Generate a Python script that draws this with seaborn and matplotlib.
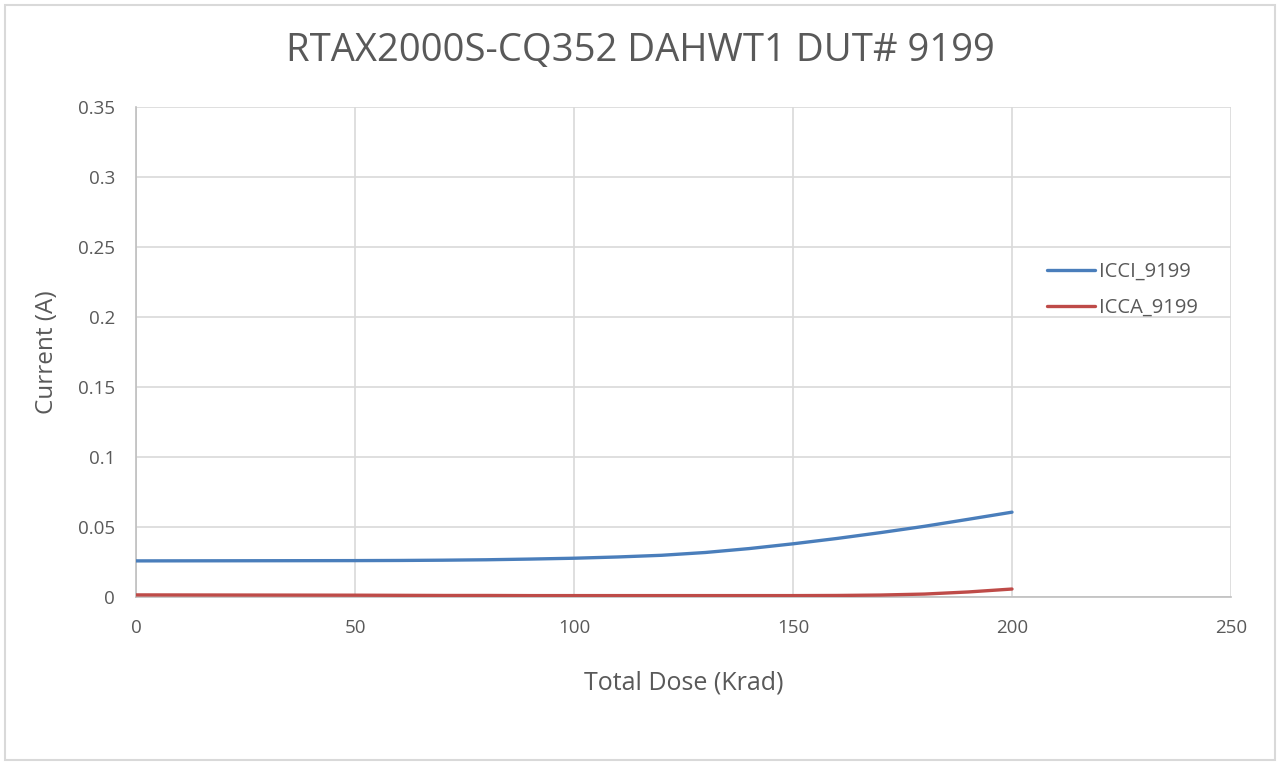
import pandas as pd
import matplotlib.pyplot as plt
import seaborn as sns
from matplotlib.patches import Rectangle

sns.set_theme(style="white")
plt.rcParams['font.family'] = ['Open Sans', 'DejaVu Sans']

TITLE = 'RTAX2000S-CQ352 DAHWT1 DUT# 9199'

# values
dose = [0, 25, 50, 60, 70, 80, 90, 100, 110, 120, 130, 140, 150, 160, 170, 180, 190, 200]
icci = [0.0258, 0.0259, 0.0260, 0.0261, 0.0263, 0.0266, 0.0271, 0.0277, 0.0286, 0.0298,
        0.0318, 0.0346, 0.0380, 0.0418, 0.0460, 0.0505, 0.0555, 0.0606]
icca = [0.0015, 0.0014, 0.0013, 0.0012, 0.0011, 0.0011, 0.0010, 0.0010, 0.0010, 0.0010,
        0.0010, 0.0010, 0.0010, 0.0011, 0.0014, 0.0021, 0.0036, 0.0057]

df = pd.concat([
    pd.DataFrame({'dose': dose, 'current': icci, 'series': 'ICCI_9199'}),
    pd.DataFrame({'dose': dose, 'current': icca, 'series': 'ICCA_9199'}),
])

GREY = '#595959'
GRID = '#d9d9d9'
palette = {'ICCI_9199': '#4a7ebb', 'ICCA_9199': '#be4b48'}

fig = plt.figure(figsize=(12.8, 7.65), dpi=100)
ax = fig.add_axes([0.1063, 0.2196, 0.8554, 0.6405])

sns.lineplot(data=df, x='dose', y='current', hue='series', palette=palette,
             linewidth=2.4, ax=ax, legend=True, zorder=3)

ax.set_xlim(0, 250)
ax.set_ylim(0, 0.35)
ax.set_xticks([0, 50, 100, 150, 200, 250])
ax.set_yticks([0, 0.05, 0.1, 0.15, 0.2, 0.25, 0.3, 0.35])
ax.set_yticklabels(['0', '0.05', '0.1', '0.15', '0.2', '0.25', '0.3', '0.35'])
ax.grid(True, color=GRID, linewidth=1.2)
ax.set_axisbelow(True)
for s in ['top', 'right']:
    ax.spines[s].set_visible(False)
for s in ['left', 'bottom']:
    ax.spines[s].set_color('#bfbfbf')
    ax.spines[s].set_linewidth(1.2)
ax.tick_params(axis='both', colors=GREY, labelsize=13.5, length=0)
ax.tick_params(axis='x', pad=16)
ax.tick_params(axis='y', pad=15)

ax.set_xlabel('Total Dose (Krad)', color=GREY, fontsize=18, labelpad=24)
ax.set_ylabel('Current (A)', color=GREY, fontsize=17.5, labelpad=14)
fig.text(0.5, 0.933, TITLE, ha='center', va='center', color=GREY, fontsize=27.5)

leg = ax.legend(loc='center left', bbox_to_anchor=(0.815, 0.627), frameon=False,
                fontsize=14.5, handlelength=2.4, handletextpad=0.2, labelspacing=0.8)
for t in leg.get_texts():
    t.set_color(GREY)

fig.patches.append(Rectangle((0.004, 0.007), 0.992, 0.986, transform=fig.transFigure,
                             fill=False, edgecolor='#d9d9d9', linewidth=1.5))

fig.savefig('out.png', dpi=100)
